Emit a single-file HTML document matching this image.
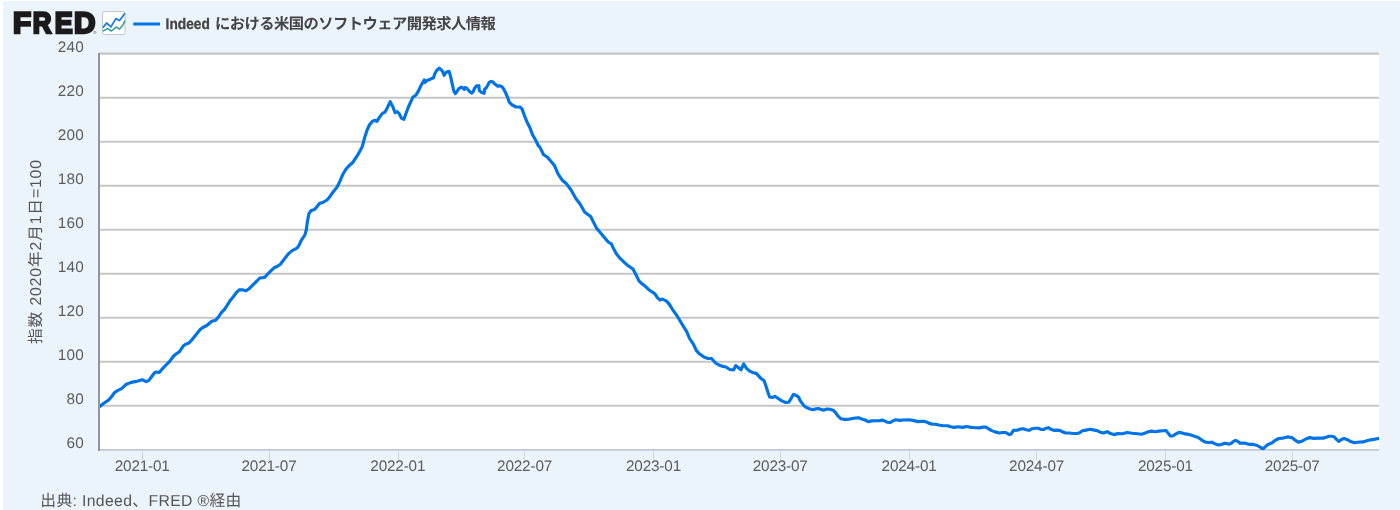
<!DOCTYPE html>
<html lang="ja">
<head>
<meta charset="utf-8">
<title>FRED Graph</title>
<style>
html,body{margin:0;padding:0;background:#fff;}
body{width:1400px;height:510px;overflow:hidden;position:relative;font-family:"Liberation Sans","Noto Sans CJK JP",sans-serif;}
#chart{position:absolute;left:3px;top:1px;width:1397px;height:509px;background:#ebf3fb;}
svg{position:absolute;left:0;top:0;text-rendering:geometricPrecision;font-family:"Liberation Sans","Noto Sans CJK JP",sans-serif;}
.ylab{font-size:15.3px;fill:#5c5c5c;text-anchor:end;letter-spacing:0.25px;}
.xlab{font-size:15.3px;fill:#5c5c5c;text-anchor:middle;letter-spacing:-0.17px;}
.title{font-size:14.7px;font-weight:bold;fill:#444;}
.src{font-size:15.75px;fill:#555;}
.ytitle{font-size:15.75px;fill:#555;text-anchor:middle;}
.logo{font-size:29.7px;font-weight:bold;fill:#1b1b1b;stroke:#1b1b1b;stroke-width:2.5px;stroke-linejoin:miter;}
</style>
</head>
<body>
<div id="chart"></div>
<svg width="1400" height="510" viewBox="0 0 1400 510">
  <defs><clipPath id="plotclip"><rect x="99" y="50" width="1280" height="400.2"/></clipPath></defs>
  <!-- plot background -->
  <rect x="99" y="54" width="1280" height="396" fill="#ffffff"/>
  <!-- gridlines -->
  <g stroke="#c6c6c6" stroke-width="2" id="grid">
    <line x1="99" x2="1379" y1="53.7" y2="53.7" stroke-width="2.3"/>
    <line x1="99" x2="1379" y1="97.8" y2="97.8"/>
    <line x1="99" x2="1379" y1="141.8" y2="141.8"/>
    <line x1="99" x2="1379" y1="185.8" y2="185.8"/>
    <line x1="99" x2="1379" y1="229.8" y2="229.8"/>
    <line x1="99" x2="1379" y1="273.8" y2="273.8"/>
    <line x1="99" x2="1379" y1="317.8" y2="317.8"/>
    <line x1="99" x2="1379" y1="361.8" y2="361.8"/>
    <line x1="99" x2="1379" y1="405.8" y2="405.8"/>
  </g>
  <!-- bottom axis -->
  <line x1="99" x2="1379" y1="449.5" y2="449.5" stroke="#c6c6c6" stroke-width="1"/>
  <line x1="99" x2="1379" y1="450.5" y2="450.5" stroke="#ccd6eb" stroke-width="1"/>
  <g stroke="#ccd6eb" stroke-width="1" id="ticks">
    <line x1="142.5" x2="142.5" y1="450" y2="460"/>
    <line x1="269.5" x2="269.5" y1="450" y2="460"/>
    <line x1="398.5" x2="398.5" y1="450" y2="460"/>
    <line x1="524.5" x2="524.5" y1="450" y2="460"/>
    <line x1="653.5" x2="653.5" y1="450" y2="460"/>
    <line x1="780.5" x2="780.5" y1="450" y2="460"/>
    <line x1="909.5" x2="909.5" y1="450" y2="460"/>
    <line x1="1036.5" x2="1036.5" y1="450" y2="460"/>
    <line x1="1165.5" x2="1165.5" y1="450" y2="460"/>
    <line x1="1292.5" x2="1292.5" y1="450" y2="460"/>
  </g>
  <polyline id="series" clip-path="url(#plotclip)" fill="none" stroke="#0073e6" stroke-width="3.15" stroke-linejoin="round" stroke-linecap="butt" points="99.3,406.9 103.8,403.3 108.7,400.0 111.7,396.5 114.6,392.5 117.5,390.6 121.5,388.6 126.4,384.3 131.3,382.4 136.2,381.4 142.1,379.8 146.4,381.6 148.9,380.4 151.9,376.3 154.8,372.5 156.8,372.0 159.3,372.5 162.6,368.6 165.6,365.5 169.5,361.6 173.4,356.3 176.4,353.7 179.3,351.8 183.2,346.1 185.6,344.3 188.7,343.1 192.1,339.6 196.0,334.7 199.9,329.8 202.8,327.5 206.8,325.5 211.8,321.2 215.7,320.2 218.6,316.7 221.6,312.4 224.5,309.4 227.5,304.9 230.4,300.2 233.3,296.7 236.3,292.7 239.2,289.8 242.2,289.8 246.1,290.8 249.0,288.8 252.9,284.9 256.9,281.0 259.8,278.0 262.7,277.6 265.1,277.1 267.6,274.1 270.6,271.2 274.1,267.8 277.5,266.3 280.4,264.3 283.3,260.4 286.3,256.5 289.2,253.1 292.2,250.6 295.1,249.2 297.5,247.6 299.4,244.7 301.0,240.8 302.9,237.8 304.9,234.9 306.3,230.0 307.3,222.3 309.0,213.4 311.2,210.5 314.5,209.5 316.5,207.2 319.4,203.6 323.3,202.3 327.3,199.7 330.2,196.2 333.1,191.9 337.1,187.0 340.0,181.1 342.9,174.2 345.9,169.3 348.8,166.0 352.7,162.5 356.7,156.6 359.6,151.7 362.2,146.8 364.7,137.4 367.3,129.5 369.6,124.6 372.5,121.3 374.5,120.3 376.9,121.3 379.4,117.4 382.4,113.4 384.9,112.3 387.3,107.9 390.2,101.7 392.7,106.4 395.1,112.8 397.1,111.5 399.0,113.4 401.4,118.1 403.9,119.3 405.9,113.8 408.4,107.0 411.8,99.7 412.8,97.3 416.1,94.9 418.6,90.6 421.2,85.1 422.9,82.4 424.2,80.0 425.0,82.4 427.1,80.4 429.5,79.6 431.4,78.6 433.4,78.0 435.0,73.3 436.9,70.2 439.3,68.1 441.2,69.8 442.8,71.7 444.0,75.3 445.6,72.9 447.1,71.7 449.1,71.4 450.7,76.9 452.2,83.9 453.8,91.0 455.4,93.7 457.0,91.4 458.9,88.6 461.3,87.2 462.8,87.9 464.3,89.4 464.8,87.5 466.8,88.2 469.1,91.0 471.5,93.2 473.1,91.8 474.6,88.2 476.6,85.9 478.9,85.7 479.3,90.6 481.7,92.6 484.1,93.3 484.7,89.0 486.0,88.2 487.6,85.5 489.2,82.4 491.1,81.4 493.1,82.0 494.7,83.9 496.2,85.1 497.8,86.4 499.4,85.7 501.7,86.4 503.7,89.0 505.7,93.0 507.6,97.3 509.2,102.1 512.2,105.0 516.1,107.0 520.0,107.0 522.0,108.9 524.5,115.8 526.9,121.7 529.8,127.5 532.4,134.4 535.7,140.3 538.6,146.2 539.7,146.9 543.6,154.7 547.5,157.3 551.5,162.0 554.4,165.5 558.3,174.3 562.3,180.2 566.2,183.5 571.1,190.0 576.0,198.8 579.9,203.7 584.8,212.2 590.7,216.5 593.6,222.4 596.6,228.2 605.7,239.1 608.6,242.3 611.2,243.6 613.5,248.5 616.5,254.0 620.4,258.7 624.3,262.3 628.2,265.8 633.1,269.1 636.1,275.0 639.0,280.9 642.0,283.8 645.9,286.8 648.8,289.7 654.7,293.6 657.6,297.9 660.2,299.9 662.5,299.1 666.5,301.1 669.4,304.4 672.4,309.3 677.3,316.2 681.8,323.8 686.7,331.7 689.6,338.5 693.5,344.4 696.5,350.7 699.4,353.8 704.3,357.2 708.2,358.5 711.6,358.5 715.5,363.0 719.0,365.0 722.9,366.4 725.9,367.0 729.8,369.5 733.7,369.9 735.7,365.6 738.2,367.5 741.0,369.9 743.7,364.0 746.5,368.3 749.4,370.9 753.3,372.8 756.3,373.4 760.6,378.1 764.1,380.7 766.1,386.6 768.0,392.5 769.6,397.0 772.0,397.4 774.9,396.4 777.8,398.3 781.8,400.9 785.7,402.5 788.6,402.3 791.2,398.3 793.5,394.4 796.5,395.4 799.0,397.4 799.2,398.8 800.8,401.3 803.5,405.2 806.2,407.4 810.0,409.0 813.2,409.6 816.4,408.8 818.6,408.5 821.3,409.6 824.0,410.1 826.7,409.0 829.9,409.2 833.7,410.6 835.8,412.8 838.0,416.0 840.7,418.7 843.9,419.3 848.3,419.3 852.6,418.5 855.8,418.0 858.5,417.7 861.2,418.7 865.0,420.0 868.2,421.6 872.0,420.9 876.3,420.7 879.5,420.7 882.2,420.1 884.4,420.9 887.1,422.2 890.3,422.5 893.0,420.9 895.7,419.8 900.0,420.4 903.3,420.0 908.7,419.8 913.0,420.4 917.8,421.6 921.1,421.4 923.8,421.2 926.5,422.0 929.2,423.4 932.4,424.1 935.6,424.3 940.1,425.2 943.2,425.7 947.6,425.7 950.8,426.8 954.0,427.4 958.3,426.8 962.7,427.4 966.4,426.5 971.3,427.4 975.6,427.7 979.4,427.9 983.1,427.1 985.8,427.1 988.0,428.4 991.2,430.4 995.0,431.9 999.3,433.0 1002.6,432.5 1005.8,432.5 1008.0,433.8 1009.6,434.7 1011.2,433.8 1013.4,430.4 1017.7,430.1 1020.4,429.0 1023.1,428.7 1026.3,429.7 1029.0,430.3 1032.2,428.7 1034.9,428.2 1038.2,428.2 1041.4,429.5 1043.6,429.5 1046.3,428.2 1048.4,427.7 1051.1,429.3 1053.8,430.4 1056.5,430.1 1059.7,430.4 1063.0,432.0 1065.7,433.0 1069.4,433.0 1073.2,433.5 1077.0,433.5 1079.7,432.8 1082.4,430.8 1086.2,430.1 1090.1,429.3 1094.3,430.1 1097.6,430.8 1100.2,432.2 1103.5,433.0 1107.3,431.7 1110.5,433.6 1113.7,434.6 1118.0,433.6 1122.4,433.8 1127.2,432.5 1132.1,433.3 1137.5,433.8 1141.8,434.2 1145.0,433.1 1148.3,431.7 1151.5,431.1 1155.3,431.7 1159.0,431.1 1162.8,430.8 1166.1,430.6 1168.2,433.3 1170.4,436.0 1172.5,436.0 1175.2,434.4 1177.9,432.8 1180.1,432.4 1183.9,433.6 1187.1,434.1 1190.3,434.7 1193.6,436.0 1196.8,436.9 1200.0,438.7 1202.7,440.8 1206.0,442.2 1208.7,442.5 1211.9,442.2 1215.1,443.8 1217.8,444.9 1220.5,444.8 1224.8,443.3 1229.2,444.1 1231.3,443.3 1233.5,441.4 1235.6,440.3 1237.8,441.4 1240.1,443.3 1244.3,443.0 1249.7,444.4 1253.5,444.4 1257.3,445.5 1260.5,447.3 1263.0,448.9 1265.4,446.6 1268.0,444.4 1271.8,443.0 1275.6,440.1 1278.8,438.5 1283.1,438.1 1287.5,436.9 1291.8,437.6 1295.0,440.1 1298.3,442.1 1302.0,441.2 1305.8,439.0 1309.6,437.6 1313.9,438.4 1317.7,438.1 1323.1,438.1 1326.3,437.3 1329.0,436.2 1331.7,436.2 1334.4,436.9 1336.5,439.4 1338.7,441.4 1341.4,439.4 1344.1,438.4 1346.8,439.4 1350.0,441.2 1354.3,442.7 1357.6,442.2 1363.0,441.9 1368.4,440.3 1373.8,439.4 1379.6,438.3"/>
  <!-- left axis -->
  <line x1="99" x2="99" y1="53" y2="451" stroke="#959595" stroke-width="2"/>
  <!-- y labels -->
  <g class="ylab">
    <text x="84.0" y="51.6">240</text>
    <text x="84.0" y="96.3">220</text>
    <text x="84.0" y="140.3">200</text>
    <text x="84.0" y="184.3">180</text>
    <text x="84.0" y="228.3">160</text>
    <text x="84.0" y="272.3">140</text>
    <text x="84.0" y="316.3">120</text>
    <text x="84.0" y="360.3">100</text>
    <text x="84.0" y="404.3">80</text>
    <text x="84.0" y="448.3">60</text>
  </g>
  <g class="xlab">
    <text x="142.2" y="470.7">2021-01</text>
    <text x="269.0" y="470.7">2021-07</text>
    <text x="397.8" y="470.7">2022-01</text>
    <text x="524.6" y="470.7">2022-07</text>
    <text x="653.5" y="470.7">2023-01</text>
    <text x="780.2" y="470.7">2023-07</text>
    <text x="909.1" y="470.7">2024-01</text>
    <text x="1036.6" y="470.7">2024-07</text>
    <text x="1165.4" y="470.7">2025-01</text>
    <text x="1292.2" y="470.7">2025-07</text>
  </g>
  <!-- legend -->
  <line x1="133.3" x2="160" y1="24" y2="24" stroke="#0073e6" stroke-width="3"/>
  <text class="title" y="29.4"><tspan x="165.6" textLength="44.2" lengthAdjust="spacingAndGlyphs" style="font-size:15.3px;stroke:#444;stroke-width:0.3px">Indeed</tspan> <tspan x="214.9" textLength="280.8" lengthAdjust="spacing" style="font-size:15.3px">における米国のソフトウェア開発求人情報</tspan></text>
  <!-- logo -->
  <text class="logo" y="33.3"><tspan x="12.9">F</tspan><tspan x="32.76" textLength="18.7" lengthAdjust="spacingAndGlyphs">R</tspan><tspan x="54.68" textLength="17.96" lengthAdjust="spacingAndGlyphs">E</tspan><tspan x="74.0">D</tspan></text>
  <text x="93.2" y="34.4" style="font-size:4.2px;fill:#555">®</text>
  <!-- icon -->
  <rect x="102.5" y="11.5" width="22.5" height="23" rx="2" ry="2" fill="#fff" stroke="#c4c6cc" stroke-width="1"/>
  <polyline fill="none" stroke="#2a9d8f" stroke-width="1.5" stroke-linejoin="round" points="102.9,31.2 107.7,28.6 111.5,31 116.2,27.1 119.6,29 123.1,24.6 125,20.5"/>
  <polyline fill="none" stroke="#1a7be8" stroke-width="1.8" stroke-linejoin="round" points="102.9,27.7 106.5,23 110.9,26.9 115.9,18.6 119.6,20.5 125,13.3"/>
  <!-- source -->
  <text class="src" x="40.3" y="506" textLength="201" lengthAdjust="spacing">出典: Indeed、FRED ®経由</text>
  <!-- y axis title -->
  <text transform="translate(40.7,252) rotate(-90)" class="ytitle" textLength="184" lengthAdjust="spacing">指数 2020年2月1日=100</text>
</svg>
</body>
</html>
